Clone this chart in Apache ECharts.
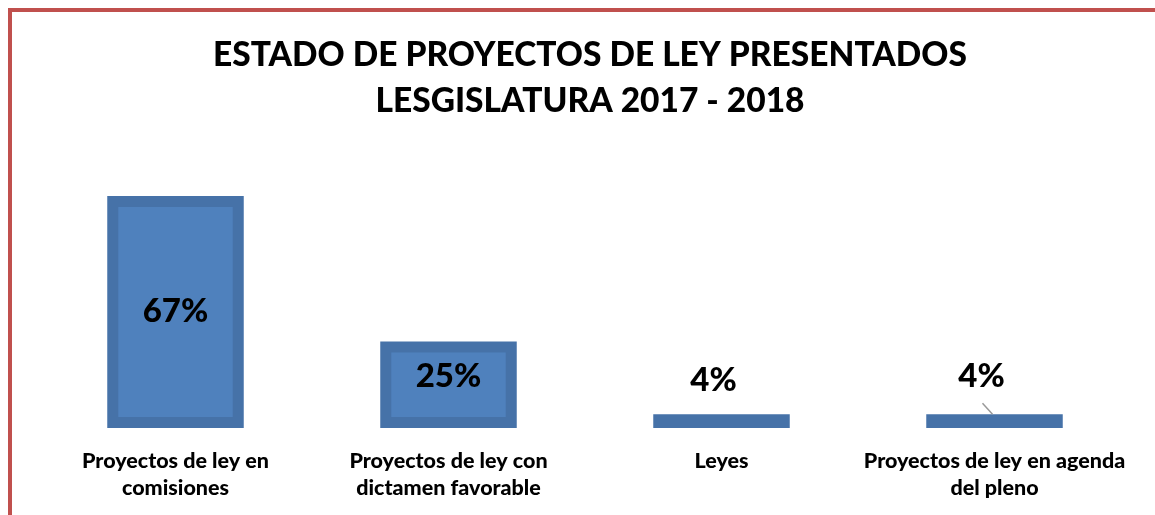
<!DOCTYPE html>
<html>
<head>
<meta charset="utf-8">
<script src="https://cdn.jsdelivr.net/npm/echarts@6/dist/echarts.min.js"></script>
<style>
  html, body { margin: 0; padding: 0; background: #fff; }
  #chart { width: 1155px; height: 515px; }
</style>
</head>
<body>
<div id="chart"></div>
<script>
// datos del grafico
var categories = [
  'Proyectos de ley en\ncomisiones',
  'Proyectos de ley con\ndictamen favorable',
  'Leyes',
  'Proyectos de ley en agenda\ndel pleno'
];
var values = [67, 25, 4, 4];

var FONT = 'Lato';
var chart = echarts.init(document.getElementById('chart'));

function renderBar(params, api) {
  var idx = params.dataIndex;
  var top = api.coord([api.value(0), api.value(1)]);
  var base = api.coord([api.value(0), 0]);
  var w = api.size([1, 0])[0] * 0.5;
  var h = base[1] - top[1];
  var b = Math.min(11, h / 2);
  var x0 = top[0] - w / 2;
  var children = [
    { type: 'rect', shape: { x: x0, y: top[1], width: w, height: h }, style: { fill: '#4672a8' } },
    { type: 'rect', shape: { x: x0 + b, y: top[1] + b, width: w - 2 * b, height: h - 2 * b }, style: { fill: '#4f81bd' } }
  ];
  var txt = api.value(1) + '%';
  var lx = top[0], ly;
  if (h > 40) {
    ly = top[1] + h / 2 - (h < 120 ? 8 : 1);
  } else if (idx === params.dataInsideLength - 1) {
    // etiqueta desplazada con linea guia
    lx = top[0] - 13;
    ly = top[1] - 38;
    children.push({ type: 'line', shape: { x1: top[0] - 12, y1: top[1] - 11, x2: top[0] - 2, y2: top[1] }, style: { stroke: '#999', lineWidth: 1.5 } });
  } else {
    lx = top[0] - 8;
    ly = top[1] - 34;
  }
  children.push({
    type: 'text',
    style: { text: txt, x: lx, y: ly, align: 'center', verticalAlign: 'middle', fill: '#000', font: '900 33px ' + FONT }
  });
  return { type: 'group', children: children };
}

chart.setOption({
  backgroundColor: '#fff',
  animation: false,
  title: {
    text: 'ESTADO DE PROYECTOS DE LEY PRESENTADOS\nLESGISLATURA 2017 - 2018',
    left: 585,
    textAlign: 'center',
    top: 27,
    textStyle: { fontFamily: FONT, fontWeight: 900, fontSize: 33.5, lineHeight: 46, color: '#000' }
  },
  graphic: [{
    type: 'rect',
    shape: { x: 10, y: 10, width: 1300, height: 700 },
    style: { fill: 'none', stroke: '#c0504d', lineWidth: 4 },
    z: 10
  }],
  grid: { left: 39, right: 24, top: 151, bottom: 87 },
  xAxis: {
    type: 'category',
    data: categories,
    axisLine: { show: false },
    axisTick: { show: false },
    axisLabel: {
      interval: 0,
      margin: 20,
      color: '#000',
      fontFamily: FONT,
      fontWeight: 900,
      fontSize: 21.5,
      lineHeight: 27
    }
  },
  yAxis: {
    type: 'value',
    min: 0,
    max: 80,
    show: false,
    splitLine: { show: false }
  },
  series: [{
    type: 'custom',
    renderItem: renderBar,
    encode: { x: 0, y: 1 },
    data: categories.map(function (c, i) { return [i, values[i]]; })
  }]
});
</script>
</body>
</html>
